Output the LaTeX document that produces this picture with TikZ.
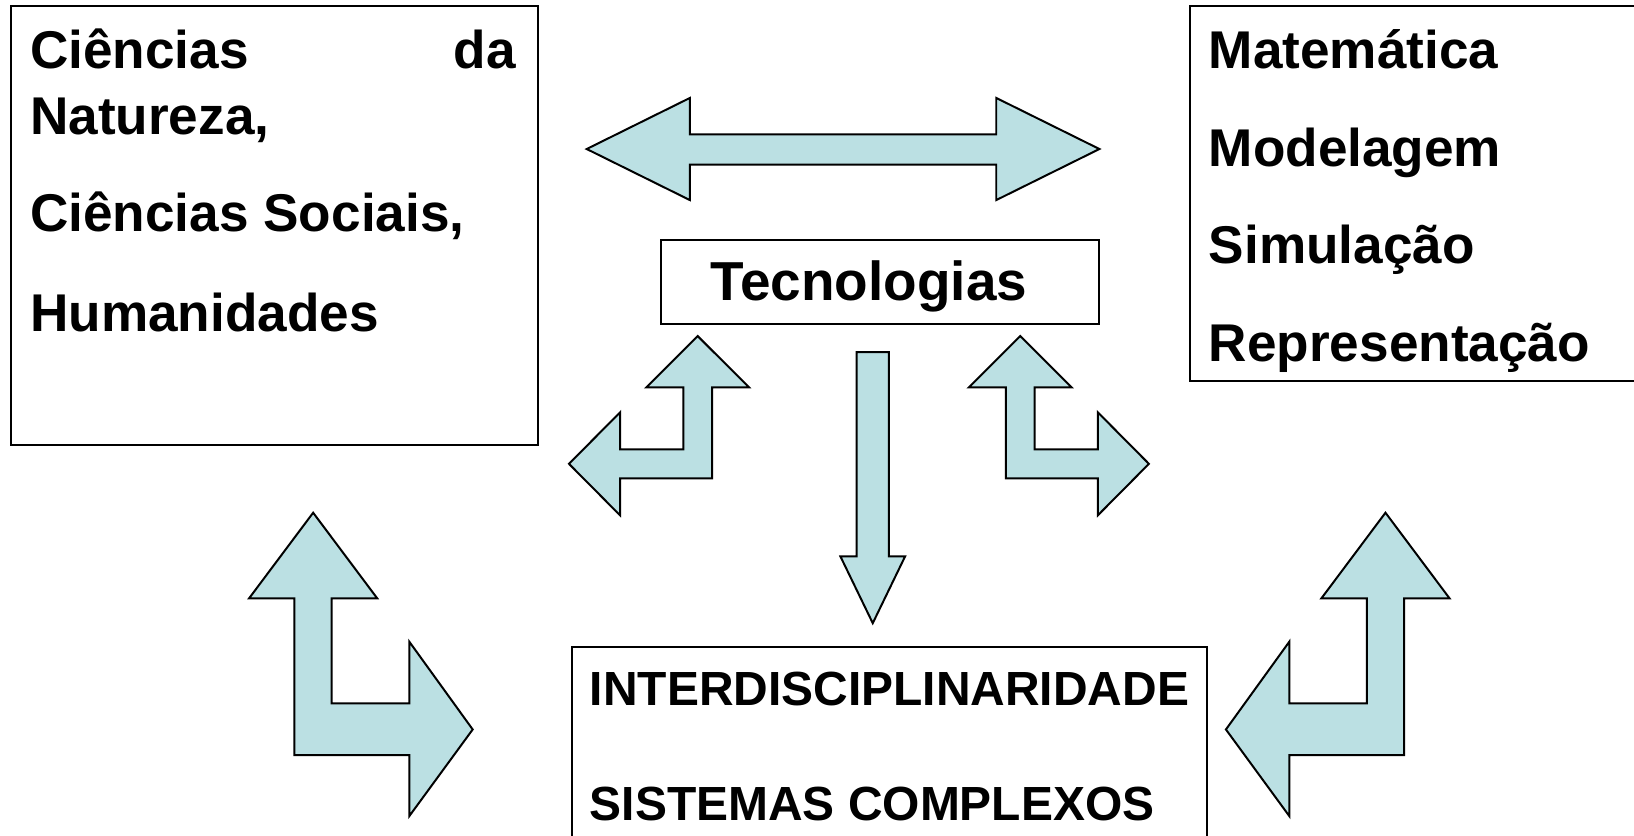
\documentclass[tikz,border=0pt]{standalone}
\usepackage{fontspec}
\setmainfont{Liberation Sans}
\definecolor{arrowfill}{RGB}{187,224,227}
\begin{document}
\begin{tikzpicture}[x=1pt,y=-1pt,
  box/.style={draw=black, line width=1.9pt, inner sep=0pt, outer sep=0pt, anchor=north west},
  openbox/.style={draw=black, line width=1.9pt},
  blockarrow/.style={draw=black, fill=arrowfill, line width=1.9pt, line join=miter},
  lbl/.style={inner sep=0pt, outer sep=0pt, font=\bfseries\fontsize{51}{51}\selectfont},
  lblbig/.style={inner sep=0pt, outer sep=0pt, font=\bfseries\fontsize{52.7}{52.7}\selectfont},
  lblsmall/.style={inner sep=0pt, outer sep=0pt, font=\bfseries\fontsize{46}{46}\selectfont},
]
\useasboundingbox (0,0) rectangle (1568,802);
\clip (0,0) rectangle (1568,802);

% boxes
\node[box, minimum width=505pt, minimum height=421pt] (lbox) at (11,6) {};
\node[box, minimum width=421pt, minimum height=81pt] (tec) at (634,230) {};
\coordinate (rboxnw) at (1142,6);
\coordinate (rboxsw) at (1142,366);
\draw[openbox] (1590,6) -- (rboxnw) -- (rboxsw) -- (1590,366);
\coordinate (iboxnw) at (549,621);
\coordinate (iboxne) at (1158,621);
\draw[openbox] (549,830) -- (iboxnw) -- (iboxne) -- (1158,830);

% block arrows
\draw[blockarrow] (563,143) -- (662,94) -- (662,129) -- (956,129) -- (956,94) -- (1055,143)
  -- (956,192) -- (956,158) -- (662,158) -- (662,192) -- cycle;
\draw[blockarrow] (669.5,322.5) -- (718.8,371.7) -- (683.3,371.7) -- (683.3,459) -- (595,459)
  -- (595,494.5) -- (546,445.1) -- (595,395.7) -- (595,431.2) -- (655.7,431.2) -- (655.7,371.7)
  -- (620.2,371.7) -- cycle;
\draw[blockarrow] (979,322.5) -- (929.7,371.7) -- (965.2,371.7) -- (965.2,459) -- (1053.5,459)
  -- (1053.5,494.5) -- (1102.5,445.1) -- (1053.5,395.7) -- (1053.5,431.2) -- (992.8,431.2) -- (992.8,371.7)
  -- (1028.3,371.7) -- cycle;
\draw[blockarrow] (822,338) -- (853,338) -- (853,534) -- (868.5,534) -- (837.5,598) -- (806.5,534)
  -- (822,534) -- cycle;
\draw[blockarrow] (300.5,492) -- (362,574.2) -- (318.3,574.2) -- (318.3,675) -- (392.8,675)
  -- (392.8,615.8) -- (453.6,700) -- (392.8,783.1) -- (392.8,724.6) -- (282.5,724.6)
  -- (282.5,574.2) -- (239,574.2) -- cycle;
\draw[blockarrow] (1329.5,492) -- (1268,574.2) -- (1311.7,574.2) -- (1311.7,675) -- (1237.2,675)
  -- (1237.2,615.8) -- (1176.4,700) -- (1237.2,783.1) -- (1237.2,724.6) -- (1347.5,724.6)
  -- (1347.5,574.2) -- (1391,574.2) -- cycle;

% texts left
\node[lbl, anchor=base west] (l1a) at (29,65.5) {Ciências};
\node[lbl, anchor=base east] (l1b) at (495,65.5) {da};
\node[lbl, anchor=base west] (l2) at (29,129) {Natureza,};
\node[lbl, anchor=base west] (l3) at (29,222) {Ciências Sociais,};
\node[lbl, anchor=base west] (l4) at (29,318) {Humanidades};
% texts right
\node[lbl, anchor=base west] (r1) at (1160,65.5) {Matemática};
\node[lbl, anchor=base west] (r2) at (1160,160) {Modelagem};
\node[lbl, anchor=base west] (r3) at (1160,253) {Simulação};
\node[lbl, anchor=base west] (r4) at (1160,347) {Representação};
% center
\node[lblbig, anchor=base west] (tect) at (682,288) {Tecnologias};
\node[lblsmall, anchor=base west] (i1) at (566,677) {INTERDISCIPLINARIDADE};
\node[lblsmall, anchor=base west] (i2) at (566,787) {SISTEMAS COMPLEXOS};
\end{tikzpicture}
\end{document}
